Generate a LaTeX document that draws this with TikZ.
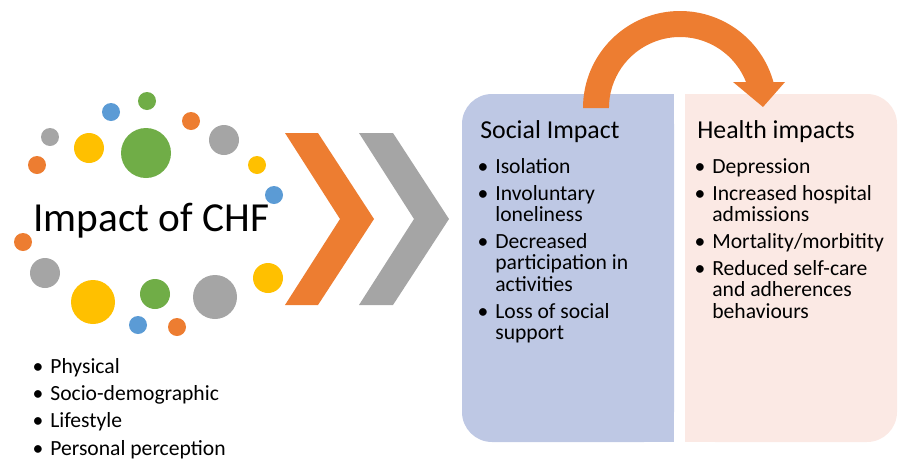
\documentclass[tikz,border=0pt]{standalone}
\usepackage{fontspec}
\setmainfont{Carlito}

\definecolor{offorange}{RGB}{237,125,49}
\definecolor{offgray}{RGB}{165,165,165}
\definecolor{offyellow}{RGB}{255,192,0}
\definecolor{offblue}{RGB}{91,155,213}
\definecolor{offgreen}{RGB}{112,173,71}
\definecolor{socialfill}{RGB}{190,200,228}
\definecolor{healthfill}{RGB}{251,233,228}

\newcommand{\bul}{\llap{\textbullet\hspace{4pt}}}
\newcommand{\lines}[1]{\begin{tabular}[t]{@{}l@{}}#1\end{tabular}}

\begin{document}
\begin{tikzpicture}[x=0.02cm, y=0.02cm,
  item/.style={anchor=base west, inner sep=0pt, font=\fontsize{12.3}{12.5}\selectfont},
  head/.style={anchor=base west, inner sep=0pt, font=\fontsize{14.7}{17}\selectfont}]

\useasboundingbox (0,0) rectangle (899,458);

%Dots
\foreach \x/\y/\r/\c in {111/346/9/offblue, 147/357/9/offgreen, 191/337/9/offorange,
    50/321/9/offgray, 89/310/15/offyellow, 146/305/25/offgreen, 224/318/15/offgray,
    37/293/9/offorange, 257/293/9/offyellow, 274/263/9/offblue, 23/216/9/offorange,
    45/185/15/offgray, 93/156/22/offyellow, 155/164/15/offgreen, 215/161/22/offgray,
    268/180/15/offyellow, 138/133/9/offblue, 177/131/9/offorange}
  \fill[\c] (\x,\y) circle (\r);

\node[anchor=base west, inner sep=0pt, font=\fontsize{23.5}{28}\selectfont] (chf) at (33,227) {Impact of CHF};

%Factors
\node[item] (f1) at (50,85) {\bul Physical};
\node[item] (f2) at (50,58) {\bul Socio-demographic};
\node[item] (f3) at (50,31) {\bul Lifestyle};
\node[item] (f4) at (50,3) {\bul Personal perception};

%Chevrons
\fill[offorange] (285,325) -- (318,325) -- (374,239) -- (318,153) -- (285,153) -- (340,239) -- cycle;
\fill[offgray] (359,325) -- (393,325) -- (449,239) -- (393,153) -- (359,153) -- (414,239) -- cycle;

%Boxes
\fill[socialfill, rounded corners=0.6cm] (462,16) rectangle (674,364);
\fill[socialfill] (600,16) rectangle (674,364);
\fill[healthfill, rounded corners=0.6cm] (685,16) rectangle (897,364);
\fill[healthfill] (685,16) rectangle (760,364);

%Curved arrow
\fill[offorange] (583,350) arc[start angle=180, end angle=15.5, radius=97]
  -- (785,376) -- (763,351) -- (733,376) -- (746,376)
  arc[start angle=21.5, end angle=180, radius=71] -- cycle;

%Social
\node[head] (social) at (480,320) {Social Impact};
\node[item] (s1) at (495,285) {\bul Isolation};
\node[item] (s2) at (495,258) {\bul\lines{Involuntary\\loneliness}};
\node[item] (s3) at (495,210) {\bul\lines{Decreased\\participation in\\activities}};
\node[item] (s4) at (495,140) {\bul\lines{Loss of social\\support}};

%Health
\node[head] (health) at (697,320) {Health impacts};
\node[item] (h1) at (712,285) {\bul Depression};
\node[item] (h2) at (712,258) {\bul\lines{Increased hospital\\admissions}};
\node[item] (h3) at (712,210) {\bul Mortality/morbitity};
\node[item] (h4) at (712,183) {\bul\lines{Reduced self-care\\and adherences\\behaviours}};

\end{tikzpicture}
\end{document}
